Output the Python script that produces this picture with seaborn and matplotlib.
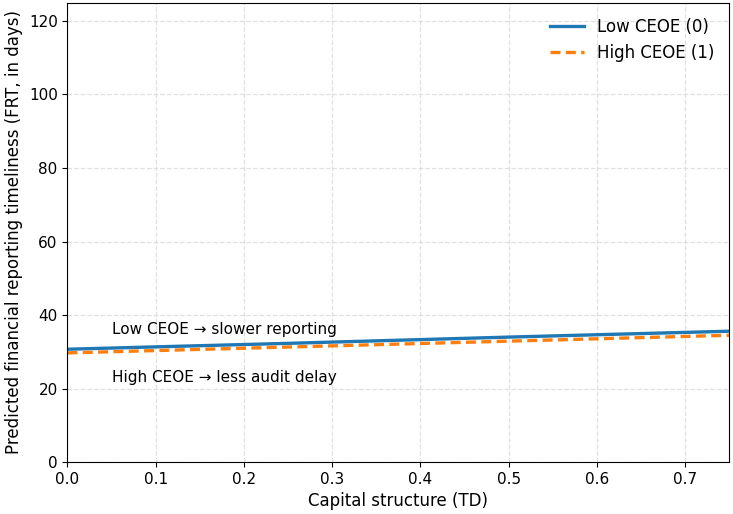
import numpy as np
import pandas as pd
import matplotlib
matplotlib.use("Agg")
import matplotlib.pyplot as plt
import seaborn as sns

# ------------------------------------------------------------
# DATA
# ------------------------------------------------------------
td_values = [0.0, 0.25, 0.5, 0.75]
frt_low_ceoe = [30.7, 32.3, 34.0, 35.6]
frt_high_ceoe = [29.7, 31.3, 32.9, 34.5]
group_labels = ["Low CEOE (0)", "High CEOE (1)"]

df = pd.DataFrame({
    "td": td_values * 2,
    "frt": frt_low_ceoe + frt_high_ceoe,
    "group": [group_labels[0]] * len(td_values) + [group_labels[1]] * len(td_values),
})

# ------------------------------------------------------------
# PLOT
# ------------------------------------------------------------
plt.rcParams["font.family"] = ["DejaVu Sans"]
fig, ax = plt.subplots(figsize=(7.33, 5.14), dpi=100)

sns.lineplot(
    data=df, x="td", y="frt", hue="group", style="group",
    palette=["#1f77b4", "#ff7f0e"],
    dashes={group_labels[0]: "", group_labels[1]: (3.0, 1.6)},
    linewidth=2.4, ax=ax,
)

ax.set_xlim(0, 0.75)
ax.set_ylim(0, 125)
ax.set_xlabel("Capital structure (TD)", fontsize=12)
ax.set_ylabel("Predicted financial reporting timeliness (FRT, in days)", fontsize=12)
ax.tick_params(labelsize=11)
ax.grid(True, linestyle="--", color="#d9d9d9", linewidth=0.9, alpha=0.8)

ax.text(0.05, 36.2, "Low CEOE \u2192 slower reporting", fontsize=11, va="center")
ax.text(0.05, 23.1, "High CEOE \u2192 less audit delay", fontsize=11, va="center")

ax.legend(title=None, frameon=False, fontsize=12, loc="upper right")

plt.subplots_adjust(left=0.092, right=0.995, top=0.995, bottom=0.101)
plt.savefig("out.png", dpi=100)
